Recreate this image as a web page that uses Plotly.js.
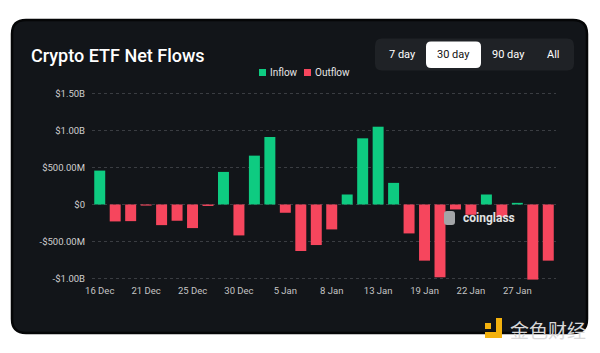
<!DOCTYPE html>
<html>
<head>
<meta charset="utf-8">
<script src="https://cdn.plot.ly/plotly-3.0.1.min.js"></script>
<style>
html,body{margin:0;padding:0;background:#ffffff;}
#chart{width:600px;height:353px;}
</style>
</head>
<body>
<div id="chart"></div>
<script>
// ---- data ----
const dates = ["16 Dec","18 Dec","19 Dec","21 Dec","23 Dec","24 Dec","25 Dec","27 Dec","28 Dec","30 Dec",
               "31 Dec","3 Jan","5 Jan","6 Jan","7 Jan","8 Jan","10 Jan","11 Jan","13 Jan","14 Jan",
               "16 Jan","19 Jan","20 Jan","21 Jan","22 Jan","24 Jan","25 Jan","27 Jan","28 Jan","29 Jan"];
// net flow in USD millions
const netFlowM = [458,-229,-225,-15,-279,-220,-319,-20,440,-418,
                  660,912,-112,-629,-548,-337,135,894,1051,292,
                  -391,-759,-984,-67,-139,135,-171,22,-1015,-759];
const xTickLabels = ["16 Dec","21 Dec","25 Dec","30 Dec","5 Jan","8 Jan","13 Jan","19 Jan","22 Jan","27 Jan"];
const yTickVals = [-1e9,-5e8,0,5e8,1e9,1.5e9];
const yTickText = ["-$1.00B","-$500.00M","$0","$500.00M","$1.00B","$1.50B"];
const seriesNames = ["Inflow","Outflow"];

// ---- styles ----
const GREEN = "#0ecb81", RED = "#f6465d";
const W = 600, H = 353;
const M = {l:92, r:44, t:92, b:72};
const PW = W - M.l - M.r, PH = H - M.t - M.b;
const px = x => (x - M.l) / PW;
const py = y => (H - M.b - y) / PH;

function roundRect(x0,y0,x1,y1,r){
  const X0=px(x0),X1=px(x1),Y0=py(y0),Y1=py(y1);
  const rx=r/PW, ry=r/PH;
  return `M${X0+rx},${Y0} L${X1-rx},${Y0} Q${X1},${Y0} ${X1},${Y0-ry} L${X1},${Y1+ry} Q${X1},${Y1} ${X1-rx},${Y1} L${X0+rx},${Y1} Q${X0},${Y1} ${X0},${Y1+ry} L${X0},${Y0-ry} Q${X0},${Y0} ${X0+rx},${Y0} Z`;
}

const inflowY = netFlowM.map(v => v >= 0 ? v*1e6 : null);
const outflowY = netFlowM.map(v => v < 0 ? v*1e6 : null);

const traces = [
  {type:"bar", name:seriesNames[0], x:dates, y:inflowY, marker:{color:GREEN}, showlegend:false, hoverinfo:"skip"},
  {type:"bar", name:seriesNames[1], x:dates, y:outflowY, marker:{color:RED}, showlegend:false, hoverinfo:"skip"}
];

const FONT = "Roboto, 'Noto Sans', sans-serif";

const shapes = [
  // card
  {type:"path", xref:"paper", yref:"paper", path:roundRect(12,20,587,333,14), fillcolor:"#121519", line:{color:"#050607", width:2.5}, layer:"below"},
  // button group
  {type:"path", xref:"paper", yref:"paper", path:roundRect(375,38.5,574,70.5,7), fillcolor:"#1f2226", line:{width:0}, layer:"below"},
  {type:"path", xref:"paper", yref:"paper", path:roundRect(426,41.5,481,68,5), fillcolor:"#ffffff", line:{width:0}, layer:"below"},
  // legend squares
  {type:"rect", xref:"paper", yref:"paper", x0:px(259), x1:px(266), y0:py(69), y1:py(76), fillcolor:GREEN, line:{width:0}},
  {type:"rect", xref:"paper", yref:"paper", x0:px(304), x1:px(311), y0:py(69), y1:py(76), fillcolor:RED, line:{width:0}},
  // coinglass icon
  {type:"path", xref:"paper", yref:"paper", path:roundRect(444,211,455,225,3), fillcolor:"#a3a5a8", line:{width:0}, layer:"above"},
  // jinse logo
  {type:"rect", xref:"paper", yref:"paper", x0:px(485), x1:px(491), y0:py(323), y1:py(329), fillcolor:"#f4b20e", line:{width:0}},
  {type:"rect", xref:"paper", yref:"paper", x0:px(496), x1:px(502), y0:py(318), y1:py(338), fillcolor:"#f4b20e", line:{width:0}},
  {type:"rect", xref:"paper", yref:"paper", x0:px(485), x1:px(502), y0:py(332), y1:py(338), fillcolor:"#f4b20e", line:{width:0}}
];

const annotations = [
  {text:"Inflow", xref:"paper", yref:"paper", x:px(268), y:py(72.5), xanchor:"left", yanchor:"middle", showarrow:false, font:{family:FONT, size:10, color:"#e6e6e6"}},
  {text:"Outflow", xref:"paper", yref:"paper", x:px(313), y:py(72.5), xanchor:"left", yanchor:"middle", showarrow:false, font:{family:FONT, size:10, color:"#e6e6e6"}},
  {text:"7 day", xref:"paper", yref:"paper", x:px(402), y:py(55), xanchor:"center", yanchor:"middle", showarrow:false, font:{family:FONT, size:11, color:"#ffffff"}},
  {text:"30 day", xref:"paper", yref:"paper", x:px(453.5), y:py(55), xanchor:"center", yanchor:"middle", showarrow:false, font:{family:FONT, size:11, color:"#111111"}},
  {text:"90 day", xref:"paper", yref:"paper", x:px(508), y:py(55), xanchor:"center", yanchor:"middle", showarrow:false, font:{family:FONT, size:11, color:"#ffffff"}},
  {text:"All", xref:"paper", yref:"paper", x:px(553), y:py(55), xanchor:"center", yanchor:"middle", showarrow:false, font:{family:FONT, size:11, color:"#ffffff"}},
  {text:"<b>coinglass</b>", xref:"paper", yref:"paper", x:px(461), y:py(218), xanchor:"left", yanchor:"middle", showarrow:false, font:{family:FONT, size:12, color:"#e2e2e2"}},
  {text:"金色财经", xref:"paper", yref:"paper", x:px(508), y:py(329), xanchor:"left", yanchor:"middle", showarrow:false, font:{family:"'Noto Sans CJK SC', sans-serif", size:19, color:"#d8d8d8"}}
];

const layout = {
  width:W, height:H,
  margin:M,
  paper_bgcolor:"#ffffff",
  plot_bgcolor:"rgba(0,0,0,0)",
  barmode:"relative",
  bargap:0.29,
  showlegend:false,
  title:{text:"Crypto ETF Net Flows", xref:"container", yref:"container", x:31/W, xanchor:"left", y:1-56/H, yanchor:"middle",
         font:{family:FONT, size:18, color:"#ffffff", weight:500}},
  xaxis:{type:"category", range:[-0.5, dates.length-0.5], tickmode:"array", tickvals:xTickLabels, ticktext:xTickLabels,
         showgrid:false, zeroline:false, showline:false, ticks:"", tickfont:{family:FONT, size:9.5, color:"#c4c4c4"}, ticklabelstandoff:2, fixedrange:true},
  yaxis:{range:[-1.034e9, 1.52e9], tickmode:"array", tickvals:yTickVals, ticktext:yTickText,
         showgrid:true, gridcolor:"#3a3d42", griddash:"3px,3px", gridwidth:1, zeroline:false, showline:false, ticks:"",
         tickfont:{family:FONT, size:9.5, color:"#cfcfcf"}, ticklabelstandoff:6, fixedrange:true},
  shapes:shapes,
  annotations:annotations,
  font:{family:FONT}
};

Plotly.newPlot("chart", traces, layout, {displayModeBar:false, staticPlot:true});
</script>
</body>
</html>
